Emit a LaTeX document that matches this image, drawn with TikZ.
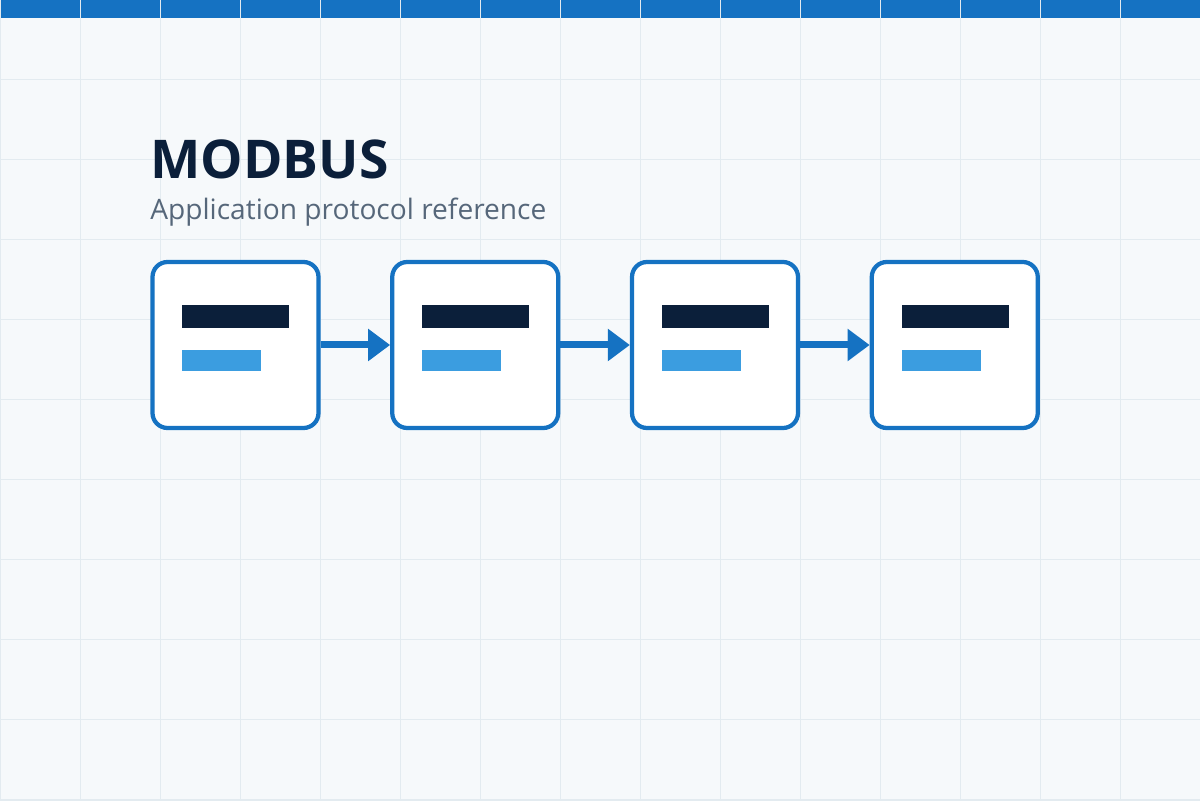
\documentclass[tikz,border=0pt]{standalone}
\usepackage{fontspec}
\setmainfont{Open Sans}
\usepackage{xcolor}
\usetikzlibrary{arrows.meta,positioning,calc}

\definecolor{bgpaper}{HTML}{F6F9FB}
\definecolor{gridcol}{HTML}{E3EBF0}
\definecolor{mbblue}{HTML}{1572C2}
\definecolor{mbnavy}{HTML}{0B1F3A}
\definecolor{mblight}{HTML}{3B9DE0}
\definecolor{mbgray}{HTML}{56677A}

\begin{document}
\begin{tikzpicture}[
  node distance=13.9mm,
  frame/.style={draw=mbblue, line width=0.85mm, fill=white, rounded corners=3mm,
                minimum width=33.2mm, minimum height=33.2mm},
  darkbar/.style={fill=mbnavy, inner sep=0pt, minimum width=21.4mm,
                  minimum height=4.6mm, anchor=north west},
  lightbar/.style={fill=mblight, inner sep=0pt, minimum width=15.8mm,
                   minimum height=4.2mm, anchor=north west},
  link/.style={-{Triangle[length=4.4mm,width=6.2mm]}, draw=mbblue,
               line width=1.4mm}
]
% paper, grid and top band
\fill[bgpaper] (0,0) rectangle (24,16);
\useasboundingbox (0,0) rectangle (24,16);
\fill[mbblue] (0,15.64) rectangle (24,16);
\draw[gridcol, line width=0.2mm] (0,0) grid[step=1.6] (24,16);

% heading
\node[anchor=base west, inner sep=0pt, text=mbnavy,
      font=\fontsize{30.4}{36}\selectfont\bfseries] (title) at (3.0,12.42) {MODBUS};
\node[anchor=base west, inner sep=0pt, text=mbgray,
      font=\fontsize{16}{19}\selectfont] (subtitle) at (3.0,11.60)
  {Application protocol reference};

% chain of frames
\node[frame] (f1) at (4.71,9.1) {};
\node[frame, right=of f1] (f2) {};
\node[frame, right=of f2] (f3) {};
\node[frame, right=of f3] (f4) {};

\node[darkbar] (d1) at ($(f1.center)+(-1.07,0.8)$) {};
\node[lightbar] (l1) at ($(f1.center)+(-1.07,-0.1)$) {};
\node[darkbar] (d2) at ($(f2.center)+(-1.07,0.8)$) {};
\node[lightbar] (l2) at ($(f2.center)+(-1.07,-0.1)$) {};
\node[darkbar] (d3) at ($(f3.center)+(-1.07,0.8)$) {};
\node[lightbar] (l3) at ($(f3.center)+(-1.07,-0.1)$) {};
\node[darkbar] (d4) at ($(f4.center)+(-1.07,0.8)$) {};
\node[lightbar] (l4) at ($(f4.center)+(-1.07,-0.1)$) {};

\draw[link] (f1) -- (f2);
\draw[link] (f2) -- (f3);
\draw[link] (f3) -- (f4);
\end{tikzpicture}
\end{document}
